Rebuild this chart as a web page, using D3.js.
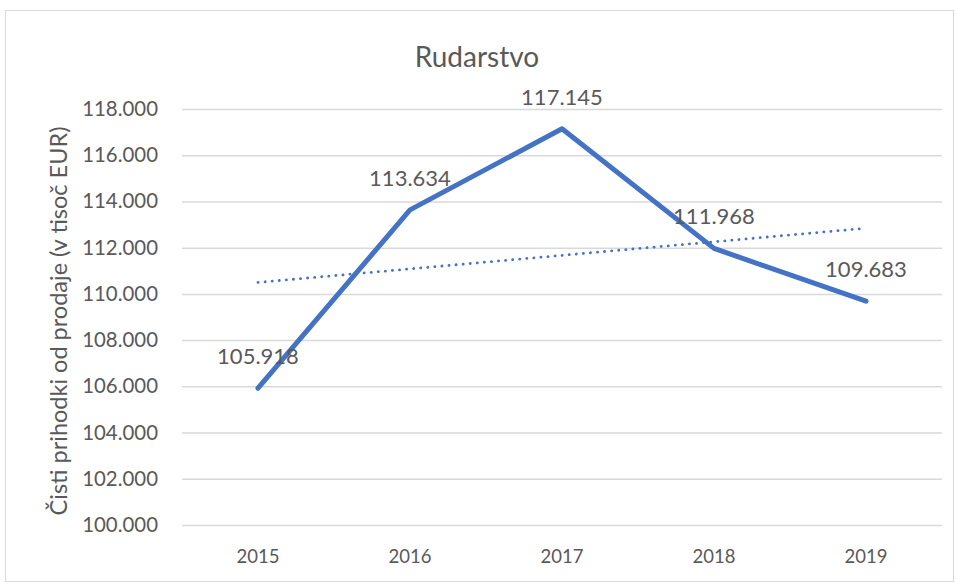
<!DOCTYPE html>
<html>
<head>
<meta charset="utf-8">
<script src="https://cdn.jsdelivr.net/npm/d3@7"></script>
<style>
  body { margin: 0; background: #fff; }
  text { font-family: Lato, "Open Sans", sans-serif; fill: #595959; }
</style>
</head>
<body>
<svg id="chart" width="956" height="583"></svg>
<script>
const years = ["2015", "2016", "2017", "2018", "2019"];
const revenue = [105918, 113634, 117145, 111968, 109683];
const yTicks = [100000, 102000, 104000, 106000, 108000, 110000, 112000, 114000, 116000, 118000];

const width = 956, height = 583;
const margin = { top: 109, right: 14, bottom: 58, left: 182 };

const svg = d3.select("#chart");

// chart frame
svg.append("rect")
    .attr("x", 5.5).attr("y", 10.5)
    .attr("width", width - 8).attr("height", height - 12)
    .attr("fill", "none")
    .attr("stroke", "#d9d9d9");

const x = d3.scaleBand().domain(years).range([margin.left, width - margin.right]);
const y = d3.scaleLinear().domain([100000, 118000]).range([height - margin.bottom, margin.top]);

const fmtK = v => (v / 1000).toFixed(3);

// gridlines + y labels
svg.append("g")
    .attr("transform", `translate(${margin.left},0)`)
    .call(d3.axisLeft(y).tickValues(yTicks).tickSize(-(width - margin.left - margin.right)).tickFormat(fmtK))
    .call(g => g.select(".domain").remove())
    .call(g => g.selectAll(".tick line").attr("stroke", "#d9d9d9").attr("stroke-width", 1.5))
    .call(g => g.selectAll(".tick text").attr("x", -24).style("font-size", "20.4px").attr("fill", "#595959"));

// x labels
svg.append("g")
    .attr("transform", `translate(0,${height - margin.bottom})`)
    .call(d3.axisBottom(x).tickSize(0).tickPadding(25))
    .call(g => g.select(".domain").remove())
    .call(g => g.selectAll(".tick text").style("font-size", "18.5px").attr("fill", "#595959"));

// linear trendline (least squares over the series)
const n = revenue.length;
const mx = d3.mean(d3.range(n)), my = d3.mean(revenue);
const slope = d3.sum(revenue, (v, i) => (i - mx) * (v - my)) / d3.sum(d3.range(n), i => (i - mx) ** 2);
const trend = years.map((yr, i) => ({ yr, v: my + slope * (i - mx) }));

const cx = yr => x(yr) + x.bandwidth() / 2;

svg.append("path")
    .datum(trend)
    .attr("fill", "none")
    .attr("stroke", "#4472c4")
    .attr("stroke-width", 2.8)
    .attr("stroke-dasharray", "0.1 7")
    .attr("stroke-linecap", "round")
    .attr("d", d3.line().x(d => cx(d.yr)).y(d => y(d.v)));

// main line
const data = years.map((yr, i) => ({ yr, v: revenue[i] }));
svg.append("path")
    .datum(data)
    .attr("fill", "none")
    .attr("stroke", "#4472c4")
    .attr("stroke-width", 5)
    .attr("stroke-linecap", "round")
    .attr("stroke-linejoin", "round")
    .attr("d", d3.line().x(d => cx(d.yr)).y(d => y(d.v)));

// data labels
svg.append("g").selectAll("text")
    .data(data)
    .join("text")
    .attr("x", d => cx(d.yr))
    .attr("y", d => y(d.v) - 24)
    .attr("text-anchor", "middle")
    .style("font-size", "22px")
    .text(d => fmtK(d.v));

// title
svg.append("text")
    .attr("x", 477).attr("y", 67)
    .attr("text-anchor", "middle")
    .style("font-size", "28px")
    .text("Rudarstvo");

// y axis title
svg.append("text")
    .attr("transform", `translate(67,${(margin.top + height - margin.bottom) / 2 + 4}) rotate(-90)`)
    .attr("text-anchor", "middle")
    .style("font-size", "23.5px")
    .text("Čisti prihodki od prodaje (v tisoč EUR)");
</script>
</body>
</html>
